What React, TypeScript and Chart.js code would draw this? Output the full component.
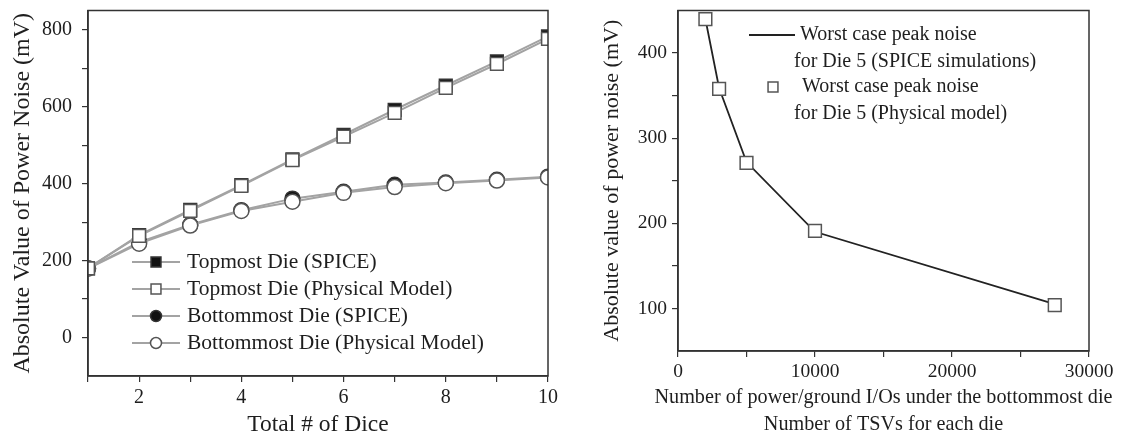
import React, { useEffect, useRef } from 'react';
import { Chart, registerables } from 'chart.js';

Chart.register(...registerables);

const FONT = '"Liberation Serif", "DejaVu Serif", serif';
const TEXT = '#1e1e1e';
const AXIS = '#333333';

// ---------- Left chart data ----------
const diceCounts = [1, 2, 3, 4, 5, 6, 7, 8, 9, 10];
const topmostSpice = [180, 266, 332, 396, 463, 527, 592, 655, 718, 783];
const topmostPhysical = [180, 264, 329, 394, 461, 522, 584, 649, 711, 776];
const bottommostSpice = [180, 248, 293, 331, 361, 379, 397, 403, 410, 418];
const bottommostPhysical = [179, 244, 291, 329, 353, 376, 391, 401, 408, 416];
const diceTicks = [1, 2, 3, 4, 5, 6, 7, 8, 9, 10];
const diceTickLabels = [2, 4, 6, 8, 10];
const noiseTicks = [0, 100, 200, 300, 400, 500, 600, 700, 800];
const noiseTickLabels = [0, 200, 400, 600, 800];

// ---------- Right chart data ----------
const ioCounts = [2000, 3000, 5000, 10000, 27500];
const spiceWorstNoise = [440, 359, 272, 190, 105];
const physicalWorstNoise = [440, 358, 271, 191, 104];
const ioTicks = [0, 5000, 10000, 15000, 20000, 25000, 30000];
const ioTickLabels = [0, 10000, 20000, 30000];
const worstTicks = [100, 150, 200, 250, 300, 350, 400];
const worstTickLabels = [100, 200, 300, 400];
const ioAxisTitle = ['Number of power/ground I/Os under the bottommost die', 'Number of TSVs for each die'];

function toPoints(xs: number[], ys: number[]) {
  return xs.map((x, i) => ({ x, y: ys[i] }));
}

function drawMarker(ctx: CanvasRenderingContext2D, style: string, x: number, y: number, r: number, fill: string, stroke: string, width: number) {
  ctx.save();
  ctx.beginPath();
  if (style === 'rect') {
    const s = r * Math.SQRT1_2;
    ctx.rect(x - s, y - s, 2 * s, 2 * s);
  } else {
    ctx.arc(x, y, r, 0, Math.PI * 2);
  }
  ctx.fillStyle = fill;
  ctx.fill();
  ctx.lineWidth = width;
  ctx.strokeStyle = stroke;
  ctx.stroke();
  ctx.restore();
}

type LegendItem = {
  dataset: number;
  y: number;
  line?: [number, number];
  markerX?: number;
  markerR?: number;
  textX: number[];
};

function makeLegendPlugin(items: LegendItem[], fontSize: number, lineGap: number) {
  return {
    id: 'inlineLegend',
    afterDatasetsDraw(chart: any) {
      const ctx: CanvasRenderingContext2D = chart.ctx;
      ctx.save();
      for (const it of items) {
        const ds: any = chart.data.datasets[it.dataset];
        if (it.line) {
          ctx.beginPath();
          ctx.strokeStyle = ds.borderColor;
          ctx.lineWidth = ds.borderWidth;
          ctx.moveTo(it.line[0], it.y);
          ctx.lineTo(it.line[1], it.y);
          ctx.stroke();
        }
        if (it.markerX !== undefined) {
          drawMarker(ctx, ds.pointStyle, it.markerX, it.y, it.markerR || 6, ds.pointBackgroundColor, ds.pointBorderColor, ds.pointBorderWidth);
        }
        ctx.font = `${fontSize}px ${FONT}`;
        ctx.fillStyle = TEXT;
        ctx.textBaseline = 'middle';
        ctx.textAlign = 'left';
        String(ds.label).split('\n').forEach((t, i) => {
          ctx.fillText(t, it.textX[i] ?? it.textX[0], it.y + i * lineGap);
        });
      }
      ctx.restore();
    },
  };
}

// Multi-line x-axis title drawn without width compression, centred under the chart area
function makeXTitlePlugin(lines: string[], fontSize: number, firstLineY: number, lineGap: number) {
  return {
    id: 'xTitle',
    afterDraw(chart: any) {
      const { ctx, chartArea } = chart;
      const cx = (chartArea.left + chartArea.right) / 2;
      ctx.save();
      ctx.font = `${fontSize}px ${FONT}`;
      ctx.fillStyle = TEXT;
      ctx.textAlign = 'center';
      ctx.textBaseline = 'middle';
      lines.forEach((t, i) => ctx.fillText(t, cx, firstLineY + i * lineGap));
      ctx.restore();
    },
  };
}

const framePlugin = {
  id: 'frame',
  afterDraw(chart: any) {
    const { ctx, chartArea } = chart;
    ctx.save();
    ctx.strokeStyle = AXIS;
    ctx.lineWidth = 1.5;
    ctx.strokeRect(chartArea.left, chartArea.top, chartArea.right - chartArea.left, chartArea.bottom - chartArea.top);
    ctx.restore();
  },
};

function axisBase(tickSize: number) {
  return {
    grid: { drawOnChartArea: false, drawTicks: true, tickLength: 6, color: AXIS, lineWidth: 1.2 },
    border: { display: true, color: AXIS, width: 1.5 },
    ticksBase: { autoSkip: false, maxRotation: 0, color: TEXT, font: { family: FONT, size: tickSize } },
  };
}

function LeftChart() {
  const ref = useRef<HTMLCanvasElement>(null);
  useEffect(() => {
    if (!ref.current) return;
    const gray = '#a3a3a3';
    const b = axisBase(20);
    const chart = new Chart(ref.current, {
      type: 'line',
      data: {
        datasets: [
          {
            label: 'Topmost Die (SPICE)',
            data: toPoints(diceCounts, topmostSpice),
            borderColor: gray, borderWidth: 2,
            pointStyle: 'rect', pointRadius: 9,
            pointBackgroundColor: '#111111', pointBorderColor: '#333333', pointBorderWidth: 1.5,
            order: 1,
          },
          {
            label: 'Topmost Die (Physical Model)',
            data: toPoints(diceCounts, topmostPhysical),
            borderColor: gray, borderWidth: 2,
            pointStyle: 'rect', pointRadius: 9,
            pointBackgroundColor: '#ffffff', pointBorderColor: '#555555', pointBorderWidth: 1.5,
            order: 0,
          },
          {
            label: 'Bottommost Die (SPICE)',
            data: toPoints(diceCounts, bottommostSpice),
            borderColor: gray, borderWidth: 2,
            pointStyle: 'circle', pointRadius: 7.5,
            pointBackgroundColor: '#111111', pointBorderColor: '#333333', pointBorderWidth: 1.5,
            order: 1,
          },
          {
            label: 'Bottommost Die (Physical Model)',
            data: toPoints(diceCounts, bottommostPhysical),
            borderColor: gray, borderWidth: 2,
            pointStyle: 'circle', pointRadius: 7.5,
            pointBackgroundColor: '#ffffff', pointBorderColor: '#555555', pointBorderWidth: 1.5,
            order: 0,
          },
        ],
      } as any,
      options: {
        responsive: false,
        animation: false,
        layout: { padding: { top: 2.5, right: 17, bottom: 0, left: 0 } },
        plugins: { legend: { display: false }, tooltip: { enabled: false } },
        scales: {
          x: {
            type: 'linear', min: 1, max: 10,
            afterBuildTicks: (s: any) => { s.ticks = diceTicks.map((v) => ({ value: v })); },
            afterFit: (s: any) => { s.height = 63; s.paddingLeft = 0; s.paddingRight = 0; },
            grid: b.grid, border: b.border,
            ticks: { ...b.ticksBase, padding: 4, callback: (v: any) => (diceTickLabels.includes(Number(v)) ? String(v) : '') },
            title: { display: true, text: 'Total # of Dice', color: TEXT, font: { family: FONT, size: 23.5 }, padding: { top: 0, bottom: 0 } },
          },
          y: {
            type: 'linear', min: -100, max: 850,
            afterBuildTicks: (s: any) => { s.ticks = noiseTicks.map((v) => ({ value: v })); },
            afterFit: (s: any) => { s.width = 88; s.paddingTop = 0; s.paddingBottom = 0; },
            grid: b.grid, border: b.border,
            ticks: { ...b.ticksBase, padding: 10, callback: (v: any) => (noiseTickLabels.includes(Number(v)) ? String(v) : '') },
            title: { display: true, text: 'Absolute Value of Power Noise (mV)', color: TEXT, font: { family: FONT, size: 24 }, padding: { top: 8, bottom: 0 } },
          },
        },
      } as any,
      plugins: [
        framePlugin,
        makeLegendPlugin(
          [
            { dataset: 0, y: 262, line: [132, 180], markerX: 156, markerR: 7, textX: [187] },
            { dataset: 1, y: 289, line: [132, 180], markerX: 156, markerR: 7, textX: [187] },
            { dataset: 2, y: 316, line: [132, 180], markerX: 156, markerR: 5.5, textX: [187] },
            { dataset: 3, y: 343, line: [132, 180], markerX: 156, markerR: 5.5, textX: [187] },
          ],
          21.5,
          0,
        ),
      ] as any,
    });
    return () => chart.destroy();
  }, []);
  return <canvas ref={ref} width={565} height={439} style={{ position: 'absolute', left: 0, top: 0 }} />;
}

function RightChart() {
  const ref = useRef<HTMLCanvasElement>(null);
  useEffect(() => {
    if (!ref.current) return;
    const b = axisBase(19.5);
    const chart = new Chart(ref.current, {
      type: 'line',
      data: {
        datasets: [
          {
            label: 'Worst case peak noise\nfor Die 5 (SPICE simulations)',
            data: toPoints(ioCounts, spiceWorstNoise),
            borderColor: '#222222', borderWidth: 1.8,
            pointRadius: 0,
            order: 1,
          },
          {
            label: 'Worst case peak noise\nfor Die 5 (Physical model)',
            data: toPoints(ioCounts, physicalWorstNoise),
            showLine: false,
            pointStyle: 'rect', pointRadius: 9,
            pointBackgroundColor: '#ffffff', pointBorderColor: '#555555', pointBorderWidth: 1.5,
            order: 0,
          },
        ],
      } as any,
      options: {
        responsive: false,
        animation: false,
        layout: { padding: { top: 5, right: 37, bottom: 0, left: 0 } },
        plugins: { legend: { display: false }, tooltip: { enabled: false } },
        scales: {
          x: {
            type: 'linear', min: 0, max: 30000,
            afterBuildTicks: (s: any) => { s.ticks = ioTicks.map((v) => ({ value: v })); },
            afterFit: (s: any) => { s.height = 88; s.paddingLeft = 0; s.paddingRight = 0; },
            grid: b.grid, border: b.border,
            ticks: { ...b.ticksBase, padding: 3, callback: (v: any) => (ioTickLabels.includes(Number(v)) ? String(v) : '') },
            title: { display: false },
          },
          y: {
            type: 'linear', min: 50, max: 450,
            afterBuildTicks: (s: any) => { s.ticks = worstTicks.map((v) => ({ value: v })); },
            afterFit: (s: any) => { s.width = 88; s.paddingTop = 0; s.paddingBottom = 0; },
            grid: b.grid, border: b.border,
            ticks: { ...b.ticksBase, padding: 5, callback: (v: any) => (worstTickLabels.includes(Number(v)) ? String(v) : '') },
            title: { display: true, text: 'Absolute value of power noise (mV)', color: TEXT, font: { family: FONT, size: 22 }, padding: { top: 9, bottom: 0 } },
          },
        },
      } as any,
      plugins: [
        framePlugin,
        makeXTitlePlugin(ioAxisTitle, 20.2, 398, 27),
        makeLegendPlugin(
          [
            { dataset: 0, y: 35, line: [159, 205], textX: [210, 204] },
            { dataset: 1, y: 87, markerX: 183, markerR: 7, textX: [212, 204] },
          ],
          20,
          26.5,
        ),
      ] as any,
    });
    return () => chart.destroy();
  }, []);
  return <canvas ref={ref} width={536} height={439} style={{ position: 'absolute', left: 590, top: 0 }} />;
}

export default function App() {
  return (
    <div style={{ position: 'absolute', left: 0, top: 0, width: 1126, height: 439, background: '#ffffff', overflow: 'hidden' }}>
      <LeftChart />
      <RightChart />
    </div>
  );
}
